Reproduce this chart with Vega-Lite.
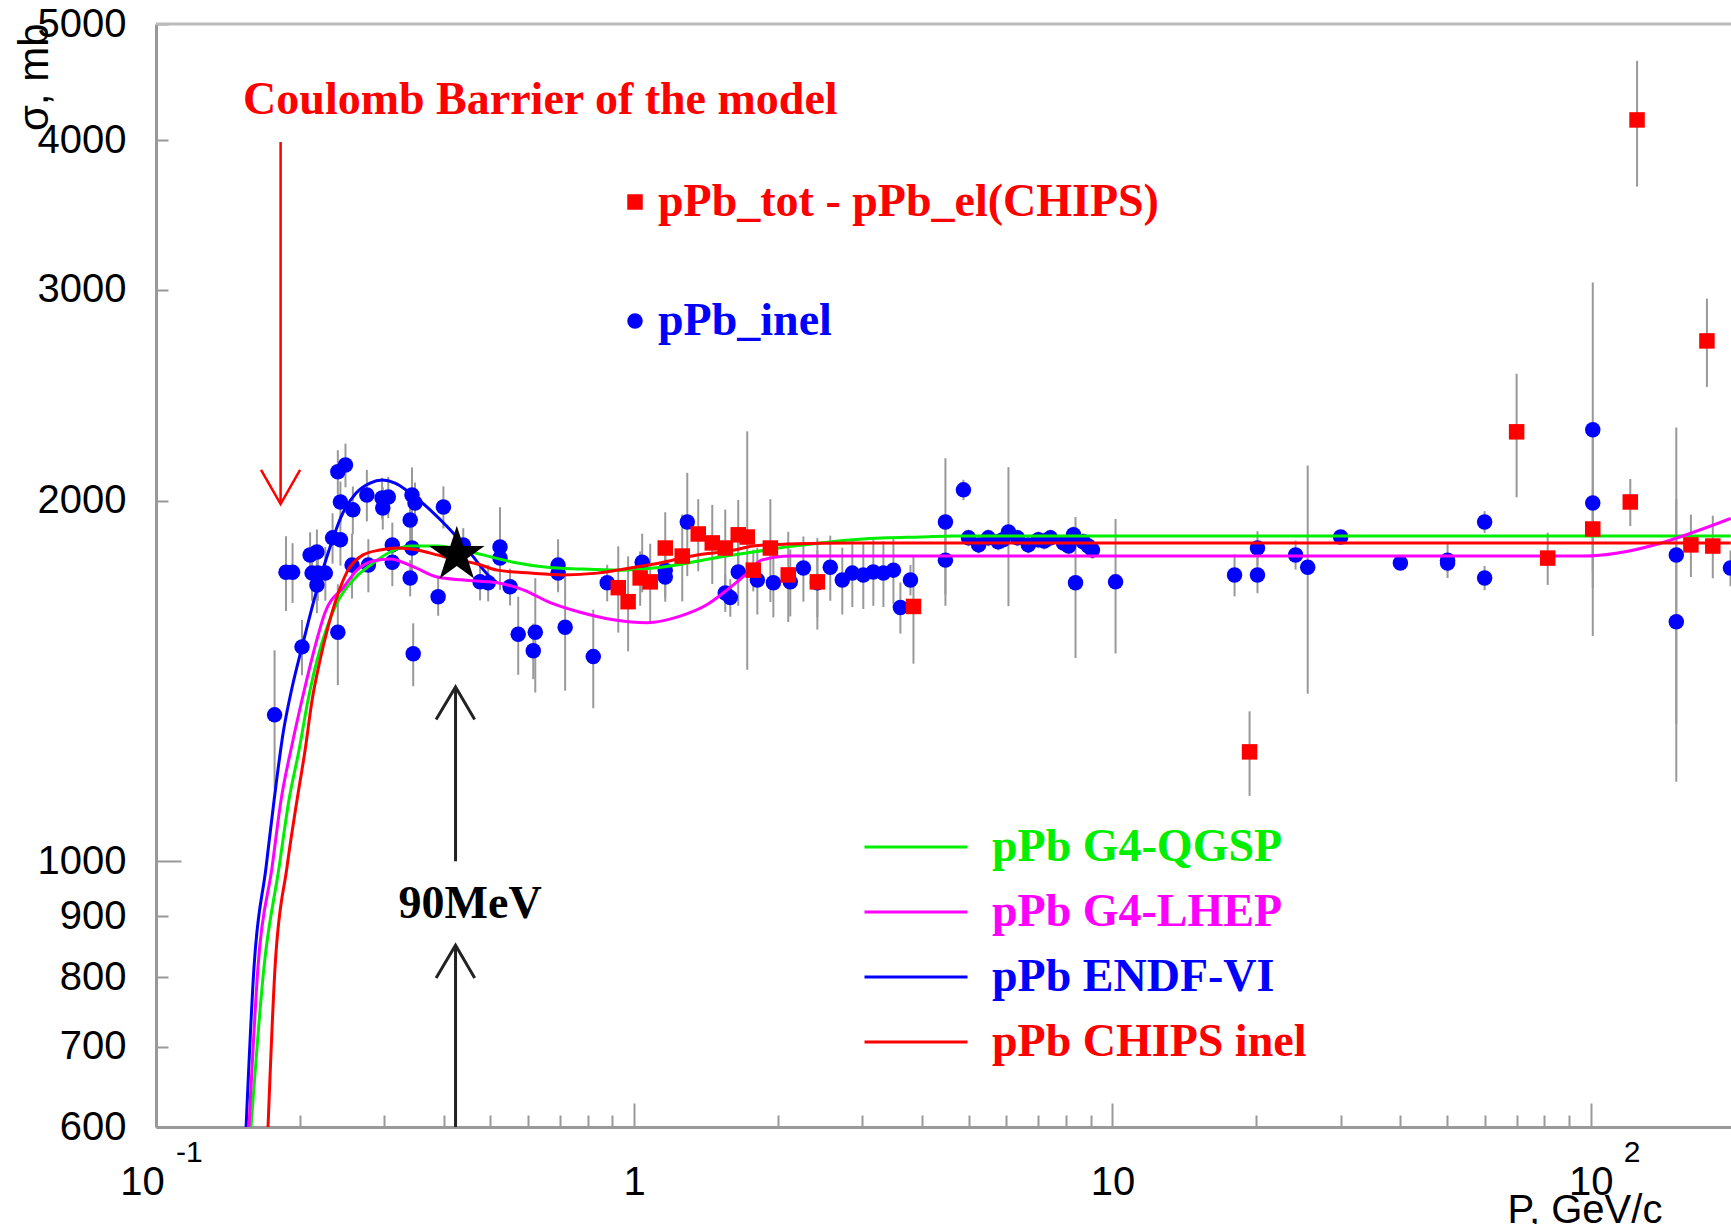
{
  "$schema": "https://vega.github.io/schema/vega-lite/v6.json",
  "width": 1575,
  "height": 1103,
  "autosize": {"type": "none"},
  "padding": {"left": 156, "top": 24, "right": 0, "bottom": 97},
  "background": "#ffffff",
  "config": {"view": {"stroke": null}},
  "datasets": {
    "pts": [
      {"P":0.177,"sigma":1325,"err":175,"set":"pPb_inel"},
      {"P":0.187,"sigma":1743,"err":125,"set":"pPb_inel"},
      {"P":0.193,"sigma":1743,"err":100,"set":"pPb_inel"},
      {"P":0.202,"sigma":1510,"err":80,"set":"pPb_inel"},
      {"P":0.210,"sigma":1802,"err":80,"set":"pPb_inel"},
      {"P":0.217,"sigma":1812,"err":80,"set":"pPb_inel"},
      {"P":0.212,"sigma":1740,"err":90,"set":"pPb_inel"},
      {"P":0.218,"sigma":1740,"err":90,"set":"pPb_inel"},
      {"P":0.226,"sigma":1740,"err":90,"set":"pPb_inel"},
      {"P":0.217,"sigma":1701,"err":90,"set":"pPb_inel"},
      {"P":0.234,"sigma":1862,"err":90,"set":"pPb_inel"},
      {"P":0.243,"sigma":1855,"err":90,"set":"pPb_inel"},
      {"P":0.240,"sigma":2114,"err":90,"set":"pPb_inel"},
      {"P":0.249,"sigma":2142,"err":90,"set":"pPb_inel"},
      {"P":0.243,"sigma":1995,"err":80,"set":"pPb_inel"},
      {"P":0.240,"sigma":1553,"err":150,"set":"pPb_inel"},
      {"P":0.258,"sigma":1965,"err":90,"set":"pPb_inel"},
      {"P":0.257,"sigma":1767,"err":110,"set":"pPb_inel"},
      {"P":0.276,"sigma":2022,"err":100,"set":"pPb_inel"},
      {"P":0.278,"sigma":1767,"err":90,"set":"pPb_inel"},
      {"P":0.297,"sigma":2010,"err":80,"set":"pPb_inel"},
      {"P":0.298,"sigma":1972,"err":80,"set":"pPb_inel"},
      {"P":0.306,"sigma":2014,"err":80,"set":"pPb_inel"},
      {"P":0.312,"sigma":1837,"err":80,"set":"pPb_inel"},
      {"P":0.312,"sigma":1777,"err":80,"set":"pPb_inel"},
      {"P":0.343,"sigma":2022,"err":110,"set":"pPb_inel"},
      {"P":0.348,"sigma":1991,"err":80,"set":"pPb_inel"},
      {"P":0.340,"sigma":1927,"err":80,"set":"pPb_inel"},
      {"P":0.343,"sigma":1826,"err":80,"set":"pPb_inel"},
      {"P":0.340,"sigma":1724,"err":60,"set":"pPb_inel"},
      {"P":0.345,"sigma":1490,"err":90,"set":"pPb_inel"},
      {"P":0.399,"sigma":1976,"err":80,"set":"pPb_inel"},
      {"P":0.389,"sigma":1663,"err":60,"set":"pPb_inel"},
      {"P":0.439,"sigma":1837,"err":60,"set":"pPb_inel"},
      {"P":0.476,"sigma":1711,"err":60,"set":"pPb_inel"},
      {"P":0.495,"sigma":1708,"err":60,"set":"pPb_inel"},
      {"P":0.524,"sigma":1830,"err":145,"set":"pPb_inel"},
      {"P":0.524,"sigma":1791,"err":60,"set":"pPb_inel"},
      {"P":0.550,"sigma":1695,"err":60,"set":"pPb_inel"},
      {"P":0.572,"sigma":1547,"err":116,"set":"pPb_inel"},
      {"P":0.621,"sigma":1553,"err":170,"set":"pPb_inel"},
      {"P":0.615,"sigma":1499,"err":80,"set":"pPb_inel"},
      {"P":0.693,"sigma":1767,"err":90,"set":"pPb_inel"},
      {"P":0.693,"sigma":1740,"err":60,"set":"pPb_inel"},
      {"P":0.717,"sigma":1568,"err":180,"set":"pPb_inel"},
      {"P":0.821,"sigma":1482,"err":140,"set":"pPb_inel"},
      {"P":0.878,"sigma":1708,"err":60,"set":"pPb_inel"},
      {"P":1.039,"sigma":1777,"err":100,"set":"pPb_inel"},
      {"P":1.161,"sigma":1750,"err":90,"set":"pPb_inel"},
      {"P":1.161,"sigma":1727,"err":80,"set":"pPb_inel"},
      {"P":1.291,"sigma":1920,"err":190,"set":"pPb_inel"},
      {"P":1.550,"sigma":1675,"err":60,"set":"pPb_inel"},
      {"P":1.588,"sigma":1660,"err":60,"set":"pPb_inel"},
      {"P":1.650,"sigma":1744,"err":110,"set":"pPb_inel"},
      {"P":1.809,"sigma":1717,"err":110,"set":"pPb_inel"},
      {"P":1.954,"sigma":1708,"err":110,"set":"pPb_inel"},
      {"P":2.120,"sigma":1711,"err":110,"set":"pPb_inel"},
      {"P":2.258,"sigma":1757,"err":110,"set":"pPb_inel"},
      {"P":2.415,"sigma":1708,"err":110,"set":"pPb_inel"},
      {"P":2.570,"sigma":1760,"err":110,"set":"pPb_inel"},
      {"P":2.723,"sigma":1717,"err":110,"set":"pPb_inel"},
      {"P":2.858,"sigma":1740,"err":110,"set":"pPb_inel"},
      {"P":3.013,"sigma":1734,"err":110,"set":"pPb_inel"},
      {"P":3.162,"sigma":1744,"err":110,"set":"pPb_inel"},
      {"P":3.319,"sigma":1740,"err":110,"set":"pPb_inel"},
      {"P":3.483,"sigma":1750,"err":110,"set":"pPb_inel"},
      {"P":3.602,"sigma":1629,"err":80,"set":"pPb_inel"},
      {"P":3.781,"sigma":1717,"err":50,"set":"pPb_inel"},
      {"P":4.474,"sigma":1920,"err":250,"set":"pPb_inel"},
      {"P":4.474,"sigma":1784,"err":150,"set":"pPb_inel"},
      {"P":4.879,"sigma":2042,"err":40,"set":"pPb_inel"},
      {"P":5.00,"sigma":1862,"err":30,"set":"pPb_inel"},
      {"P":5.25,"sigma":1837,"err":30,"set":"pPb_inel"},
      {"P":5.50,"sigma":1862,"err":30,"set":"pPb_inel"},
      {"P":5.77,"sigma":1848,"err":30,"set":"pPb_inel"},
      {"P":5.90,"sigma":1855,"err":30,"set":"pPb_inel"},
      {"P":6.06,"sigma":1883,"err":250,"set":"pPb_inel"},
      {"P":6.33,"sigma":1862,"err":30,"set":"pPb_inel"},
      {"P":6.67,"sigma":1837,"err":30,"set":"pPb_inel"},
      {"P":7.00,"sigma":1855,"err":30,"set":"pPb_inel"},
      {"P":7.20,"sigma":1851,"err":30,"set":"pPb_inel"},
      {"P":7.42,"sigma":1862,"err":30,"set":"pPb_inel"},
      {"P":7.90,"sigma":1844,"err":30,"set":"pPb_inel"},
      {"P":8.10,"sigma":1833,"err":30,"set":"pPb_inel"},
      {"P":8.29,"sigma":1873,"err":30,"set":"pPb_inel"},
      {"P":8.69,"sigma":1848,"err":30,"set":"pPb_inel"},
      {"P":8.90,"sigma":1833,"err":30,"set":"pPb_inel"},
      {"P":9.08,"sigma":1819,"err":30,"set":"pPb_inel"},
      {"P":8.37,"sigma":1708,"err":230,"set":"pPb_inel"},
      {"P":10.15,"sigma":1711,"err":220,"set":"pPb_inel"},
      {"P":18.0,"sigma":1734,"err":70,"set":"pPb_inel"},
      {"P":20.1,"sigma":1826,"err":60,"set":"pPb_inel"},
      {"P":20.1,"sigma":1734,"err":60,"set":"pPb_inel"},
      {"P":24.15,"sigma":1802,"err":50,"set":"pPb_inel"},
      {"P":25.6,"sigma":1760,"err":380,"set":"pPb_inel"},
      {"P":30.0,"sigma":1865,"err":15,"set":"pPb_inel"},
      {"P":40.0,"sigma":1774,"err":15,"set":"pPb_inel"},
      {"P":50.2,"sigma":1784,"err":60,"set":"pPb_inel"},
      {"P":50.2,"sigma":1774,"err":30,"set":"pPb_inel"},
      {"P":60.0,"sigma":1920,"err":40,"set":"pPb_inel"},
      {"P":60.0,"sigma":1724,"err":40,"set":"pPb_inel"},
      {"P":101,"sigma":2292,"err":750,"set":"pPb_inel"},
      {"P":101,"sigma":1991,"err":300,"set":"pPb_inel"},
      {"P":151,"sigma":1802,"err":500,"set":"pPb_inel"},
      {"P":151,"sigma":1585,"err":420,"set":"pPb_inel"},
      {"P":196,"sigma":1757,"err":60,"set":"pPb_inel"},
      {"P":0.926,"sigma":1692,"err":140,"set":"pPb_tot - pPb_el(CHIPS)"},
      {"P":0.971,"sigma":1647,"err":150,"set":"pPb_tot - pPb_el(CHIPS)"},
      {"P":1.029,"sigma":1724,"err":90,"set":"pPb_tot - pPb_el(CHIPS)"},
      {"P":1.080,"sigma":1711,"err":130,"set":"pPb_tot - pPb_el(CHIPS)"},
      {"P":1.161,"sigma":1826,"err":130,"set":"pPb_tot - pPb_el(CHIPS)"},
      {"P":1.260,"sigma":1798,"err":150,"set":"pPb_tot - pPb_el(CHIPS)"},
      {"P":1.361,"sigma":1876,"err":130,"set":"pPb_tot - pPb_el(CHIPS)"},
      {"P":1.456,"sigma":1844,"err":140,"set":"pPb_tot - pPb_el(CHIPS)"},
      {"P":1.550,"sigma":1826,"err":140,"set":"pPb_tot - pPb_el(CHIPS)"},
      {"P":1.650,"sigma":1873,"err":130,"set":"pPb_tot - pPb_el(CHIPS)"},
      {"P":1.723,"sigma":1865,"err":420,"set":"pPb_tot - pPb_el(CHIPS)"},
      {"P":1.774,"sigma":1750,"err":70,"set":"pPb_tot - pPb_el(CHIPS)"},
      {"P":1.926,"sigma":1826,"err":180,"set":"pPb_tot - pPb_el(CHIPS)"},
      {"P":2.099,"sigma":1734,"err":150,"set":"pPb_tot - pPb_el(CHIPS)"},
      {"P":2.415,"sigma":1711,"err":150,"set":"pPb_tot - pPb_el(CHIPS)"},
      {"P":3.836,"sigma":1632,"err":170,"set":"pPb_tot - pPb_el(CHIPS)"},
      {"P":19.35,"sigma":1234,"err":100,"set":"pPb_tot - pPb_el(CHIPS)"},
      {"P":70.0,"sigma":2283,"err":270,"set":"pPb_tot - pPb_el(CHIPS)"},
      {"P":81.3,"sigma":1791,"err":90,"set":"pPb_tot - pPb_el(CHIPS)"},
      {"P":101,"sigma":1894,"err":150,"set":"pPb_tot - pPb_el(CHIPS)"},
      {"P":121,"sigma":1995,"err":90,"set":"pPb_tot - pPb_el(CHIPS)"},
      {"P":125,"sigma":4158,"err":500,"set":"pPb_tot - pPb_el(CHIPS)"},
      {"P":162,"sigma":1837,"err":110,"set":"pPb_tot - pPb_el(CHIPS)"},
      {"P":175,"sigma":2719,"err":230,"set":"pPb_tot - pPb_el(CHIPS)"},
      {"P":180,"sigma":1833,"err":110,"set":"pPb_tot - pPb_el(CHIPS)"}
    ],
    "curves": [
      {"model":"pPb ENDF-VI","P":0.1543,"sigma":600},
      {"model":"pPb ENDF-VI","P":0.1603,"sigma":816},
      {"model":"pPb ENDF-VI","P":0.1699,"sigma":989},
      {"model":"pPb ENDF-VI","P":0.1766,"sigma":1125},
      {"model":"pPb ENDF-VI","P":0.1844,"sigma":1279},
      {"model":"pPb ENDF-VI","P":0.1925,"sigma":1396},
      {"model":"pPb ENDF-VI","P":0.2020,"sigma":1510},
      {"model":"pPb ENDF-VI","P":0.2141,"sigma":1653},
      {"model":"pPb ENDF-VI","P":0.2301,"sigma":1819},
      {"model":"pPb ENDF-VI","P":0.2438,"sigma":1939},
      {"model":"pPb ENDF-VI","P":0.2621,"sigma":2030},
      {"model":"pPb ENDF-VI","P":0.2803,"sigma":2069},
      {"model":"pPb ENDF-VI","P":0.2970,"sigma":2081},
      {"model":"pPb ENDF-VI","P":0.3162,"sigma":2069},
      {"model":"pPb ENDF-VI","P":0.3399,"sigma":2030},
      {"model":"pPb ENDF-VI","P":0.3743,"sigma":1965},
      {"model":"pPb ENDF-VI","P":0.4122,"sigma":1891},
      {"model":"pPb ENDF-VI","P":0.4538,"sigma":1809},
      {"model":"pPb ENDF-VI","P":0.4995,"sigma":1727},
      {"model":"pPb ENDF-VI","P":0.5169,"sigma":1708},
      {"model":"pPb G4-QGSP","P":0.1580,"sigma":600},
      {"model":"pPb G4-QGSP","P":0.1682,"sigma":816},
      {"model":"pPb G4-QGSP","P":0.1809,"sigma":989},
      {"model":"pPb G4-QGSP","P":0.1897,"sigma":1125},
      {"model":"pPb G4-QGSP","P":0.1991,"sigma":1238},
      {"model":"pPb G4-QGSP","P":0.2080,"sigma":1364},
      {"model":"pPb G4-QGSP","P":0.2172,"sigma":1473},
      {"model":"pPb G4-QGSP","P":0.2279,"sigma":1569},
      {"model":"pPb G4-QGSP","P":0.2391,"sigma":1644},
      {"model":"pPb G4-QGSP","P":0.2608,"sigma":1724},
      {"model":"pPb G4-QGSP","P":0.2830,"sigma":1771},
      {"model":"pPb G4-QGSP","P":0.3087,"sigma":1812},
      {"model":"pPb G4-QGSP","P":0.3399,"sigma":1833},
      {"model":"pPb G4-QGSP","P":0.3872,"sigma":1833},
      {"model":"pPb G4-QGSP","P":0.4388,"sigma":1819},
      {"model":"pPb G4-QGSP","P":0.4831,"sigma":1802},
      {"model":"pPb G4-QGSP","P":0.5583,"sigma":1777},
      {"model":"pPb G4-QGSP","P":0.6577,"sigma":1760},
      {"model":"pPb G4-QGSP","P":0.7709,"sigma":1754},
      {"model":"pPb G4-QGSP","P":0.9348,"sigma":1750},
      {"model":"pPb G4-QGSP","P":1.0959,"sigma":1757},
      {"model":"pPb G4-QGSP","P":1.2906,"sigma":1774},
      {"model":"pPb G4-QGSP","P":1.5128,"sigma":1795},
      {"model":"pPb G4-QGSP","P":1.7742,"sigma":1812},
      {"model":"pPb G4-QGSP","P":2.0893,"sigma":1830},
      {"model":"pPb G4-QGSP","P":2.4502,"sigma":1844},
      {"model":"pPb G4-QGSP","P":2.8713,"sigma":1855},
      {"model":"pPb G4-QGSP","P":3.3834,"sigma":1862},
      {"model":"pPb G4-QGSP","P":3.9667,"sigma":1865},
      {"model":"pPb G4-QGSP","P":4.6501,"sigma":1869},
      {"model":"pPb G4-QGSP","P":196.3,"sigma":1869},
      {"model":"pPb G4-LHEP","P":0.1565,"sigma":600},
      {"model":"pPb G4-LHEP","P":0.1634,"sigma":816},
      {"model":"pPb G4-LHEP","P":0.1749,"sigma":989},
      {"model":"pPb G4-LHEP","P":0.1826,"sigma":1125},
      {"model":"pPb G4-LHEP","P":0.1925,"sigma":1251},
      {"model":"pPb G4-LHEP","P":0.2020,"sigma":1364},
      {"model":"pPb G4-LHEP","P":0.2131,"sigma":1490},
      {"model":"pPb G4-LHEP","P":0.2258,"sigma":1614},
      {"model":"pPb G4-LHEP","P":0.2473,"sigma":1695},
      {"model":"pPb G4-LHEP","P":0.2633,"sigma":1750},
      {"model":"pPb G4-LHEP","P":0.2844,"sigma":1781},
      {"model":"pPb G4-LHEP","P":0.3087,"sigma":1788},
      {"model":"pPb G4-LHEP","P":0.3466,"sigma":1760},
      {"model":"pPb G4-LHEP","P":0.3872,"sigma":1727},
      {"model":"pPb G4-LHEP","P":0.4388,"sigma":1717},
      {"model":"pPb G4-LHEP","P":0.5169,"sigma":1708},
      {"model":"pPb G4-LHEP","P":0.5858,"sigma":1685},
      {"model":"pPb G4-LHEP","P":0.6673,"sigma":1644},
      {"model":"pPb G4-LHEP","P":0.7709,"sigma":1614},
      {"model":"pPb G4-LHEP","P":0.9040,"sigma":1591},
      {"model":"pPb G4-LHEP","P":1.0647,"sigma":1582},
      {"model":"pPb G4-LHEP","P":1.2478,"sigma":1602},
      {"model":"pPb G4-LHEP","P":1.4211,"sigma":1638},
      {"model":"pPb G4-LHEP","P":1.5650,"sigma":1685},
      {"model":"pPb G4-LHEP","P":1.7232,"sigma":1740},
      {"model":"pPb G4-LHEP","P":1.8440,"sigma":1784},
      {"model":"pPb G4-LHEP","P":2.1197,"sigma":1798},
      {"model":"pPb G4-LHEP","P":96.2,"sigma":1798},
      {"model":"pPb G4-LHEP","P":196.3,"sigma":1933},
      {"model":"pPb CHIPS inel","P":0.1715,"sigma":600},
      {"model":"pPb CHIPS inel","P":0.1774,"sigma":816},
      {"model":"pPb CHIPS inel","P":0.1879,"sigma":989},
      {"model":"pPb CHIPS inel","P":0.1972,"sigma":1125},
      {"model":"pPb CHIPS inel","P":0.2050,"sigma":1238},
      {"model":"pPb CHIPS inel","P":0.2121,"sigma":1364},
      {"model":"pPb CHIPS inel","P":0.2204,"sigma":1473},
      {"model":"pPb CHIPS inel","P":0.2290,"sigma":1569},
      {"model":"pPb CHIPS inel","P":0.2379,"sigma":1653},
      {"model":"pPb CHIPS inel","P":0.2509,"sigma":1744},
      {"model":"pPb CHIPS inel","P":0.2710,"sigma":1802},
      {"model":"pPb CHIPS inel","P":0.2941,"sigma":1819},
      {"model":"pPb CHIPS inel","P":0.3193,"sigma":1826},
      {"model":"pPb CHIPS inel","P":0.3516,"sigma":1819},
      {"model":"pPb CHIPS inel","P":0.3872,"sigma":1802},
      {"model":"pPb CHIPS inel","P":0.4263,"sigma":1784},
      {"model":"pPb CHIPS inel","P":0.4693,"sigma":1771},
      {"model":"pPb CHIPS inel","P":0.5169,"sigma":1750},
      {"model":"pPb CHIPS inel","P":0.6060,"sigma":1740},
      {"model":"pPb CHIPS inel","P":0.7102,"sigma":1734},
      {"model":"pPb CHIPS inel","P":0.8368,"sigma":1740},
      {"model":"pPb CHIPS inel","P":0.9809,"sigma":1757},
      {"model":"pPb CHIPS inel","P":1.1499,"sigma":1777},
      {"model":"pPb CHIPS inel","P":1.3545,"sigma":1802},
      {"model":"pPb CHIPS inel","P":1.5878,"sigma":1816},
      {"model":"pPb CHIPS inel","P":1.7742,"sigma":1833},
      {"model":"pPb CHIPS inel","P":2.0893,"sigma":1840},
      {"model":"pPb CHIPS inel","P":2.8713,"sigma":1844},
      {"model":"pPb CHIPS inel","P":196.3,"sigma":1844}
    ],
    "cbArrow": [
      {"id":"shaft","ord":0,"P":0.1822,"sigma":3986},
      {"id":"shaft","ord":1,"P":0.1822,"sigma":1987},
      {"id":"head","ord":0,"P":0.1658,"sigma":2122},
      {"id":"head","ord":1,"P":0.1822,"sigma":1987},
      {"id":"head","ord":2,"P":0.2001,"sigma":2122}
    ],
    "mevArrows": [
      {"id":"s1","ord":0,"P":0.423,"sigma":1000},
      {"id":"s1","ord":1,"P":0.423,"sigma":1398},
      {"id":"h1","ord":0,"P":0.3852,"sigma":1313},
      {"id":"h1","ord":1,"P":0.423,"sigma":1398},
      {"id":"h1","ord":2,"P":0.4638,"sigma":1313},
      {"id":"s2","ord":0,"P":0.423,"sigma":600},
      {"id":"s2","ord":1,"P":0.423,"sigma":851},
      {"id":"h2","ord":0,"P":0.3852,"sigma":799},
      {"id":"h2","ord":1,"P":0.423,"sigma":851},
      {"id":"h2","ord":2,"P":0.4638,"sigma":799}
    ]
  },
  "layer": [
    {
      "data": {"values": [{"sigma": 5000}]},
      "mark": {"type": "rule", "color": "#bbbbbb", "strokeWidth": 3},
      "encoding": {
        "y": {"field": "sigma", "type": "quantitative", "title": "σ, mb", "scale": {"type": "log", "domain": [600, 5000], "nice": false}}
      }
    },
    {
      "data": {"name": "pts"},
      "mark": {"type": "errorbar", "color": "#999999", "thickness": 2},
      "encoding": {
        "x": {"field": "P", "type": "quantitative", "title": "P, GeV/c", "scale": {"type": "log", "domain": [0.1, 196.5], "nice": false}},
        "y": {"field": "sigma", "type": "quantitative", "title": "σ, mb", "scale": {"type": "log", "domain": [600, 5000], "nice": false}},
        "yError": {"field": "err"}
      }
    },
    {
      "data": {"name": "pts"},
      "transform": [{"filter": "datum.set == 'pPb_inel'"}],
      "mark": {"type": "point", "filled": true, "size": 240, "opacity": 1, "strokeWidth": 0},
      "encoding": {
        "x": {"field": "P", "type": "quantitative", "title": "P, GeV/c", "scale": {"type": "log", "domain": [0.1, 196.5], "nice": false}},
        "y": {"field": "sigma", "type": "quantitative", "title": "σ, mb", "scale": {"type": "log", "domain": [600, 5000], "nice": false}},
        "fill": {"field": "set", "type": "nominal",
          "scale": {"domain": ["pPb_tot - pPb_el(CHIPS)", "pPb_inel"], "range": ["#ff0000", "#0000ff"]},
          "legend": {"title": null, "orient": "none", "legendX": 456, "legendY": 155, "padding": 0,
            "labelFont": "Liberation Serif", "labelFontWeight": "bold", "labelFontSize": 46,
            "labelColor": {"expr": "datum.value == 'pPb_inel' ? '#0000ff' : '#ff0000'"},
            "labelOffset": 0, "rowPadding": 73, "symbolSize": 240, "symbolStrokeWidth": 0, "labelLimit": 0}},
        "shape": {"field": "set", "type": "nominal",
          "scale": {"domain": ["pPb_tot - pPb_el(CHIPS)", "pPb_inel"], "range": ["square", "circle"]},
          "legend": {"title": null, "orient": "none", "legendX": 456, "legendY": 155, "padding": 0,
            "labelFont": "Liberation Serif", "labelFontWeight": "bold", "labelFontSize": 46,
            "labelColor": {"expr": "datum.value == 'pPb_inel' ? '#0000ff' : '#ff0000'"},
            "labelOffset": 0, "rowPadding": 73, "symbolSize": 240, "symbolStrokeWidth": 0, "labelLimit": 0}}
      }
    },
    {
      "data": {"name": "curves"},
      "mark": {"type": "line", "strokeWidth": 3, "interpolate": "monotone"},
      "encoding": {
        "x": {"field": "P", "type": "quantitative", "scale": {"type": "log", "domain": [0.1, 196.5], "nice": false},
          "axis": {
            "title": "P, GeV/c",
            "values": [0.1,0.2,0.3,0.4,0.5,0.6,0.7,0.8,0.9,1,2,3,4,5,6,7,8,9,10,20,30,40,50,60,70,80,90,100],
            "labelExpr": "datum.value == 1 ? '1' : (datum.value == 0.1 || datum.value == 10 || datum.value == 100) ? '10' : ''",
            "labelFont": "Liberation Sans", "labelFontSize": 40, "labelColor": "#000000",
            "labelFlush": false, "labelOverlap": false, "labelBound": false,
            "labelPadding": 59,
            "labelOffset": {"condition": {"test": "datum.value == 0.1", "value": -14}, "value": 0},
            "tickSize": {"condition": {"test": "datum.value == 0.1 || datum.value == 1 || datum.value == 10 || datum.value == 100", "value": -24}, "value": -12},
            "tickColor": "#999999", "tickWidth": 2, "domainColor": "#999999", "domainWidth": 3, "grid": false,
            "titleFont": "Liberation Sans", "titleFontSize": 40, "titleFontWeight": "normal", "titleColor": "#000000",
            "titleAlign": "left", "titleBaseline": "alphabetic", "titleX": 1351, "titleY": 95
          }},
        "y": {"field": "sigma", "type": "quantitative", "scale": {"type": "log", "domain": [600, 5000], "nice": false},
          "axis": {
            "title": "σ, mb",
            "values": [600,700,800,900,1000,2000,3000,4000,5000],
            "format": "d",
            "labelFont": "Liberation Sans", "labelFontSize": 40, "labelColor": "#000000",
            "labelFlush": false, "labelOverlap": false, "labelBound": false,
            "labelPadding": {"condition": {"test": "datum.value == 1000", "value": 55}, "value": 42},
            "tickSize": {"condition": {"test": "datum.value == 1000", "value": -25}, "value": -12},
            "tickColor": "#999999", "tickWidth": 2, "domainColor": "#999999", "domainWidth": 3, "grid": false,
            "titleFont": "Liberation Sans", "titleFontSize": 42, "titleFontWeight": "normal", "titleColor": "#000000",
            "titleAngle": -90, "titleAlign": "right", "titleBaseline": "middle", "titleX": -122, "titleY": -1
          }},
        "color": {"field": "model", "type": "nominal",
          "scale": {"domain": ["pPb G4-QGSP", "pPb G4-LHEP", "pPb ENDF-VI", "pPb CHIPS inel"], "range": ["#00ee00", "#ff00ff", "#0000ff", "#ff0000"]},
          "legend": {"title": null, "orient": "none", "legendX": 707, "legendY": 797, "padding": 0,
            "symbolType": "stroke", "symbolSize": 10609, "symbolStrokeWidth": 3, "clipHeight": 52,
            "labelFont": "Liberation Serif", "labelFontWeight": "bold", "labelFontSize": 46,
            "labelColor": {"expr": "datum.value == 'pPb G4-QGSP' ? '#00ee00' : datum.value == 'pPb G4-LHEP' ? '#ff00ff' : datum.value == 'pPb ENDF-VI' ? '#0000ff' : '#ff0000'"},
            "labelOffset": 23, "rowPadding": 13, "labelLimit": 0}}
      }
    },
    {
      "data": {"name": "pts"},
      "transform": [{"filter": "datum.set != 'pPb_inel'"}],
      "mark": {"type": "point", "filled": true, "size": 240, "opacity": 1, "strokeWidth": 0},
      "encoding": {
        "x": {"field": "P", "type": "quantitative", "title": "P, GeV/c", "scale": {"type": "log", "domain": [0.1, 196.5], "nice": false}},
        "y": {"field": "sigma", "type": "quantitative", "title": "σ, mb", "scale": {"type": "log", "domain": [600, 5000], "nice": false}},
        "fill": {"field": "set", "type": "nominal",
          "scale": {"domain": ["pPb_tot - pPb_el(CHIPS)", "pPb_inel"], "range": ["#ff0000", "#0000ff"]}},
        "shape": {"field": "set", "type": "nominal",
          "scale": {"domain": ["pPb_tot - pPb_el(CHIPS)", "pPb_inel"], "range": ["square", "circle"]}}
      }
    },
    {
      "data": {"values": [{"P": 0.4256, "sigma": 1802}]},
      "mark": {"type": "point", "shape": "M0,-1L0.2245,-0.309L0.951,-0.309L0.363,0.118L0.588,0.809L0,0.382L-0.588,0.809L-0.363,0.118L-0.951,-0.309L-0.2245,-0.309Z", "filled": true, "color": "#000000", "size": 3400, "opacity": 1, "strokeWidth": 0},
      "encoding": {
        "x": {"field": "P", "type": "quantitative", "title": "P, GeV/c", "scale": {"type": "log", "domain": [0.1, 196.5], "nice": false}},
        "y": {"field": "sigma", "type": "quantitative", "title": "σ, mb", "scale": {"type": "log", "domain": [600, 5000], "nice": false}}
      }
    },
    {
      "data": {"name": "cbArrow"},
      "mark": {"type": "line", "color": "#ff0000", "strokeWidth": 2.5},
      "encoding": {
        "x": {"field": "P", "type": "quantitative", "title": "P, GeV/c", "scale": {"type": "log", "domain": [0.1, 196.5], "nice": false}},
        "y": {"field": "sigma", "type": "quantitative", "title": "σ, mb", "scale": {"type": "log", "domain": [600, 5000], "nice": false}},
        "detail": {"field": "id"},
        "order": {"field": "ord", "type": "quantitative"}
      }
    },
    {
      "data": {"name": "mevArrows"},
      "mark": {"type": "line", "color": "#222222", "strokeWidth": 3},
      "encoding": {
        "x": {"field": "P", "type": "quantitative", "title": "P, GeV/c", "scale": {"type": "log", "domain": [0.1, 196.5], "nice": false}},
        "y": {"field": "sigma", "type": "quantitative", "title": "σ, mb", "scale": {"type": "log", "domain": [600, 5000], "nice": false}},
        "detail": {"field": "id"},
        "order": {"field": "ord", "type": "quantitative"}
      }
    },
    {
      "data": {"values": [{"P": 0.1521, "sigma": 4206, "note": "Coulomb Barrier of the model"}]},
      "mark": {"type": "text", "align": "left", "baseline": "alphabetic", "font": "Liberation Serif", "fontWeight": "bold", "fontSize": 46, "color": "#ff0000"},
      "encoding": {
        "x": {"field": "P", "type": "quantitative", "title": "P, GeV/c", "scale": {"type": "log", "domain": [0.1, 196.5], "nice": false}},
        "y": {"field": "sigma", "type": "quantitative", "title": "σ, mb", "scale": {"type": "log", "domain": [600, 5000], "nice": false}},
        "text": {"field": "note"}
      }
    },
    {
      "data": {"values": [{"P": 0.4538, "sigma": 897, "note": "90MeV"}]},
      "mark": {"type": "text", "align": "center", "baseline": "alphabetic", "font": "Liberation Serif", "fontWeight": "bold", "fontSize": 46, "color": "#000000"},
      "encoding": {
        "x": {"field": "P", "type": "quantitative", "title": "P, GeV/c", "scale": {"type": "log", "domain": [0.1, 196.5], "nice": false}},
        "y": {"field": "sigma", "type": "quantitative", "title": "σ, mb", "scale": {"type": "log", "domain": [600, 5000], "nice": false}},
        "text": {"field": "note"}
      }
    },
    {
      "data": {"values": [{"P": 0.1, "sigma": 600, "sup": "-1"}]},
      "mark": {"type": "text", "align": "left", "baseline": "alphabetic", "dx": 20, "dy": 35, "font": "Liberation Sans", "fontSize": 30, "color": "#000000"},
      "encoding": {
        "x": {"field": "P", "type": "quantitative", "title": "P, GeV/c", "scale": {"type": "log", "domain": [0.1, 196.5], "nice": false}},
        "y": {"field": "sigma", "type": "quantitative", "title": "σ, mb", "scale": {"type": "log", "domain": [600, 5000], "nice": false}},
        "text": {"field": "sup"}
      }
    },
    {
      "data": {"values": [{"P": 100, "sigma": 600, "sup": "2"}]},
      "mark": {"type": "text", "align": "left", "baseline": "alphabetic", "dx": 33, "dy": 35, "font": "Liberation Sans", "fontSize": 30, "color": "#000000"},
      "encoding": {
        "x": {"field": "P", "type": "quantitative", "title": "P, GeV/c", "scale": {"type": "log", "domain": [0.1, 196.5], "nice": false}},
        "y": {"field": "sigma", "type": "quantitative", "title": "σ, mb", "scale": {"type": "log", "domain": [600, 5000], "nice": false}},
        "text": {"field": "sup"}
      }
    }
  ]
}
